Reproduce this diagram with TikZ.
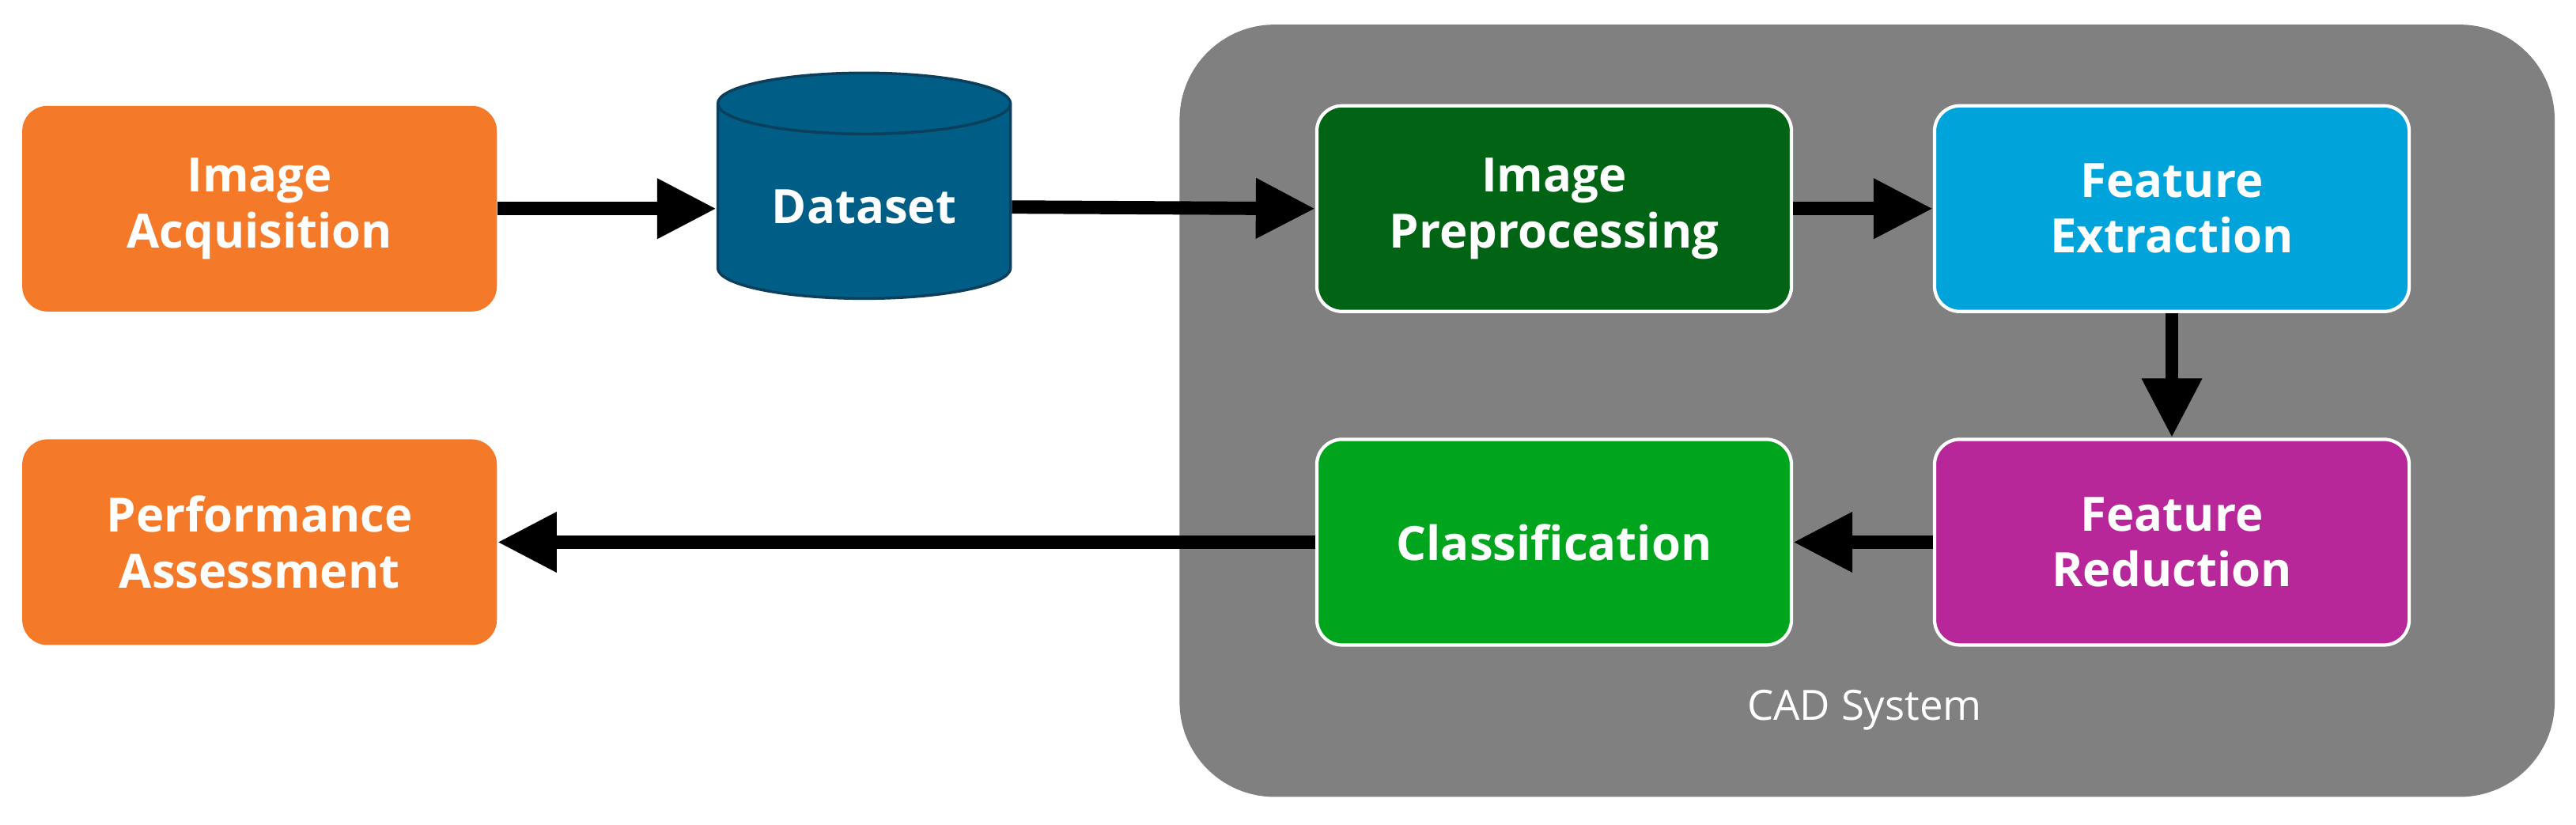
\documentclass[tikz,border=0pt]{standalone}
\usepackage{fontspec}
\setmainfont{Open Sans}
\usetikzlibrary{shapes.geometric,arrows.meta}
\definecolor{orng}{HTML}{F47A2A}
\definecolor{dset}{HTML}{005E86}
\definecolor{dsetb}{HTML}{0B3F5C}
\definecolor{cad}{HTML}{808080}
\definecolor{prep}{HTML}{006414}
\definecolor{fext}{HTML}{00A3DA}
\definecolor{clas}{HTML}{00A51D}
\definecolor{fred}{HTML}{B8279A}
\begin{document}
\begin{tikzpicture}[x=0.02077cm,y=-0.02077cm,
  box/.style={rectangle,rounded corners=0.32cm,minimum width=6cm,minimum height=2.6cm,
    align=center,text=white,font=\fontsize{17}{20}\selectfont\bfseries,inner sep=2pt},
  stepbox/.style={box,draw=white,line width=1.2pt},
  arr/.style={line width=4.8pt,-{Triangle[length=0.75cm,width=0.72cm]}}]
\useasboundingbox (0,0) rectangle (1568,502);
\fill[cad,rounded corners=1.2cm] (718,15) rectangle (1555,485);
\node[box,fill=orng] (acq) at (158,127) {Image\\Acquisition};
\node[box,fill=orng] (perf) at (158,330) {Performance\\Assessment};
\node[cylinder,shape border rotate=90,aspect=0.3,minimum width=3.7cm,minimum height=2.85cm,
  fill=dset,draw=dsetb,line width=1pt,text=white,font=\fontsize{17}{20}\selectfont\bfseries]
  (data) at (526,126) {Dataset};
\node[stepbox,fill=prep] (pre) at (946,127) {Image\\Preprocessing};
\node[stepbox,fill=fext] (ext) at (1322,127) {Feature\\Extraction};
\node[stepbox,fill=clas] (cls) at (946,330) {Classification};
\node[stepbox,fill=fred] (red) at (1322,330) {Feature\\Reduction};
\node[text=white,font=\fontsize{15}{18}\selectfont] (cadl) at (1135,432) {CAD System};
\draw[arr] (acq.east) -- (data.west|-acq.east);
\draw[arr] (data.east) -- (pre.west);
\draw[arr] (pre) -- (ext);
\draw[arr] (ext) -- (red);
\draw[arr] (red) -- (cls);
\draw[arr] (cls) -- (perf);
\end{tikzpicture}
\end{document}
